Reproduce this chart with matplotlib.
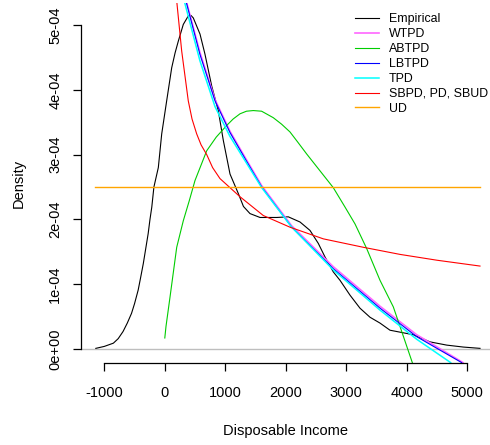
import matplotlib
matplotlib.use("Agg")
import matplotlib.pyplot as plt
import numpy as np

# densities are read in units of 1e-4
emp_x = [-1140, -1000, -850, -770, -690, -620, -550, -500, -440, -400, -355, -315, -275, -245, -215, -180,
         -107, -51, 31, 114, 170, 223, 306, 388, 430, 471, 582, 664, 775, 884, 967, 1078, 1215, 1300,
         1408, 1574, 1850, 2041, 2235, 2400, 2537, 2648, 2785, 2896, 3062, 3226, 3392, 3557, 3722,
         3888, 4107, 4383, 4660, 4934, 5210]
emp_y = [0.01, 0.04, 0.09, 0.16, 0.27, 0.40, 0.55, 0.70, 0.91, 1.10, 1.32, 1.55, 1.78, 2.00, 2.19, 2.50,
         2.80, 3.32, 3.83, 4.34, 4.57, 4.75, 5.01, 5.14, 5.15, 5.11, 4.86, 4.55, 4.06, 3.68, 3.22, 2.70,
         2.40, 2.20, 2.09, 2.03, 2.03, 2.04, 1.96, 1.83, 1.63, 1.42, 1.19, 1.06, 0.83, 0.63, 0.49, 0.40,
         0.29, 0.26, 0.22, 0.11, 0.06, 0.03, 0.01]

wtpd_x = [355, 580, 830, 1078, 1350, 1602, 2098, 2785, 3557, 4164, 4930]
wtpd_y = [5.37, 4.58, 3.85, 3.36, 2.92, 2.52, 1.90, 1.27, 0.66, 0.22, -0.21]

abtpd_x = [0, 20, 86, 197, 306, 405, 499, 693, 850, 1023, 1130, 1243, 1350, 1463, 1600, 1793, 1930,
           2069, 2200, 2345, 2565, 2785, 2979, 3144, 3337, 3557, 3777, 3916, 4091]
abtpd_y = [0.17, 0.35, 0.80, 1.57, 1.98, 2.29, 2.60, 3.06, 3.27, 3.45, 3.55, 3.63, 3.67, 3.68, 3.67, 3.57,
           3.47, 3.35, 3.19, 3.01, 2.75, 2.49, 2.19, 1.93, 1.55, 1.06, 0.65, 0.27, -0.21]

lbtpd_x = [350, 580, 830, 1078, 1350, 1602, 2098, 2785, 3557, 4164, 4907]
lbtpd_y = [5.37, 4.55, 3.83, 3.34, 2.90, 2.50, 1.88, 1.24, 0.63, 0.19, -0.21]

tpd_x = [322, 580, 830, 1078, 1350, 1602, 2098, 2785, 3557, 4164, 4725]
tpd_y = [5.37, 4.45, 3.74, 3.28, 2.87, 2.49, 1.88, 1.22, 0.60, 0.15, -0.21]

sbpd_x = [180, 197, 279, 388, 450, 527, 600, 693, 790, 912, 1243, 1628, 2069, 2620, 3281, 3888,
          4500, 5210]
sbpd_y = [5.6, 5.37, 4.60, 3.83, 3.55, 3.32, 3.15, 3.00, 2.80, 2.63, 2.35, 2.06, 1.88, 1.70, 1.57, 1.46,
          1.37, 1.28]

ud_x = [-1154, 5210]
ud_y = [2.5, 2.5]

labels = ["Empirical", "WTPD", "ABTPD", "LBTPD", "TPD", "SBPD, PD, SBUD", "UD"]
colors = ["black", "#ff66ff", "#00cd00", "#0000ff", "#00ffff", "#ff0000", "#ffa500"]
widths = [0.8, 1.2, 0.8, 0.8, 1.1, 0.8, 1.0]

xticks = [-1000, 0, 1000, 2000, 3000, 4000, 5000]
yticks = [0, 1, 2, 3, 4, 5]
ytick_labels = ["0e+00", "1e-04", "2e-04", "3e-04", "4e-04", "5e-04"]

plt.rcParams['font.family'] = ['Liberation Sans', 'DejaVu Sans']

W, H = 490, 445
fig = plt.figure(figsize=(W / 100, H / 100), dpi=100)
ax = fig.add_axes([81 / W, 82 / H, (W - 81) / W, 360 / H])

ax.axhline(0, color="#bebebe", lw=1.0, zorder=1)

series = [(emp_x, emp_y), (wtpd_x, wtpd_y), (abtpd_x, abtpd_y), (lbtpd_x, lbtpd_y),
          (tpd_x, tpd_y), (sbpd_x, sbpd_y), (ud_x, ud_y)]
for (xs, ys), lab, col, lw in zip(series, labels, colors, widths):
    ax.plot(xs, np.array(ys) * 1e-4, color=col, lw=lw, label=lab, zorder=2,
            solid_joinstyle="round")

ax.set_xlim(-1385, 5375)
ax.set_ylim(-0.216e-4, 5.34e-4)

for s in ["top", "right"]:
    ax.spines[s].set_visible(False)
ax.spines["left"].set_bounds(0, 5e-4)
ax.spines["bottom"].set_bounds(-1000, 5000)
ax.spines["left"].set_linewidth(0.9)
ax.spines["bottom"].set_linewidth(0.9)

ax.set_xticks(xticks)
ax.set_xticklabels([str(v) for v in xticks])
ax.set_yticks(np.array(yticks) * 1e-4)
ax.set_yticklabels(ytick_labels, rotation=90, va="center")
ax.tick_params(axis="both", length=6.1, width=0.9, labelsize=10.5)
ax.tick_params(axis="x", pad=10.2)
ax.tick_params(axis="y", pad=7.4)

ax.set_xlabel("Disposable Income", fontsize=10.5, labelpad=17.5)
ax.set_ylabel("Density", fontsize=10.5, labelpad=16)

ax.legend(loc="upper left", bbox_to_anchor=(355 / W, 1 - 13 / H), bbox_transform=fig.transFigure,
          frameon=False, fontsize=8.9, handlelength=1.95, handletextpad=0.8,
          labelspacing=0.24, borderpad=0, borderaxespad=0)

fig.savefig("out.png", dpi=100)
